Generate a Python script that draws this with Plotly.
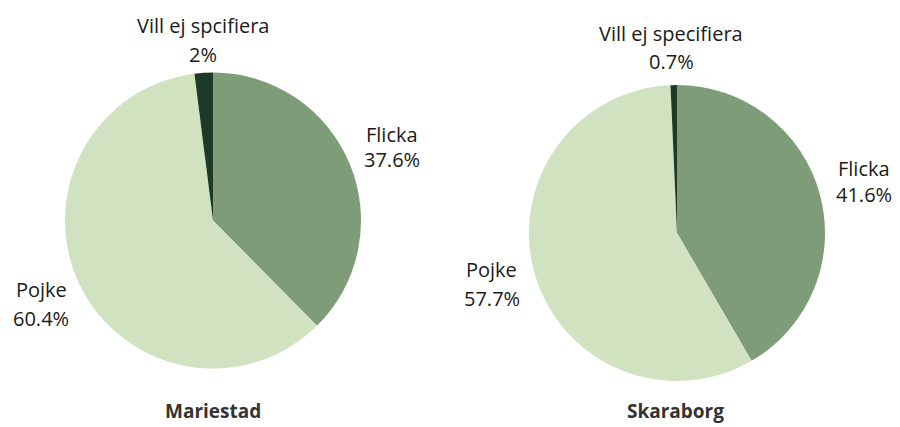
import plotly.graph_objects as go

categories = ["Flicka", "Pojke", "Vill ej spcifiera"]
categories_sk = ["Flicka", "Pojke", "Vill ej specifiera"]
mariestad = [37.6, 60.4, 2]
skaraborg = [41.6, 57.7, 0.7]
titles = ["Mariestad", "Skaraborg"]
colors = ["#7f9c78", "#d0e2bf", "#1b3a27"]

W, H = 900, 427

def dom(cx, cy, r):
    return dict(x=[(cx - r) / W, (cx + r) / W], y=[(H - cy - r) / H, (H - cy + r) / H])

fig = go.Figure()
fig.add_trace(go.Pie(labels=categories, values=mariestad, sort=False, direction="clockwise",
                     rotation=0, marker=dict(colors=colors, line=dict(width=0)),
                     textinfo="none", hoverinfo="label+percent", domain=dom(213, 220.5, 148),
                     showlegend=False))
fig.add_trace(go.Pie(labels=categories_sk, values=skaraborg, sort=False, direction="clockwise",
                     rotation=0, marker=dict(colors=colors, line=dict(width=0)),
                     textinfo="none", hoverinfo="label+percent", domain=dom(677, 233, 148),
                     showlegend=False))

def fmt(v):
    return ("%g" % v) + "%"

# (x center, baseline of name, baseline of percent)
label_pos = [
    [(392, 143, 168), (41, 298, 327), (203, 34, 63)],
    [(864, 177, 203), (492, 278, 307), (671, 42, 70)],
]
anns = []
font = dict(family="Open Sans", size=20, color="#1a1a1a")
for data, labs, pos in [(mariestad, categories, label_pos[0]), (skaraborg, categories_sk, label_pos[1])]:
    for v, lab, (x, b1, b2) in zip(data, labs, pos):
        for txt, b in [(lab, b1), (fmt(v), b2)]:
            anns.append(dict(x=x / W, y=1 - (b - 8.5) / H, xref="paper", yref="paper",
                             showarrow=False, text=txt, xanchor="center", yanchor="middle",
                             font=font))
for t, x in zip(titles, [213, 675]):
    anns.append(dict(x=x / W, y=1 - (418 - 7) / H, xref="paper", yref="paper", showarrow=False,
                     xanchor="center", yanchor="middle",
                     text=f"<b>{t}</b>", font=dict(family="Open Sans", size=19, color="#333333")))

fig.update_layout(width=W, height=H, margin=dict(l=0, r=0, t=0, b=0),
                  paper_bgcolor="white", plot_bgcolor="white", annotations=anns)
fig.write_html("out.html", config={"displayModeBar": False},
               post_script="document.body.style.margin='0';")
